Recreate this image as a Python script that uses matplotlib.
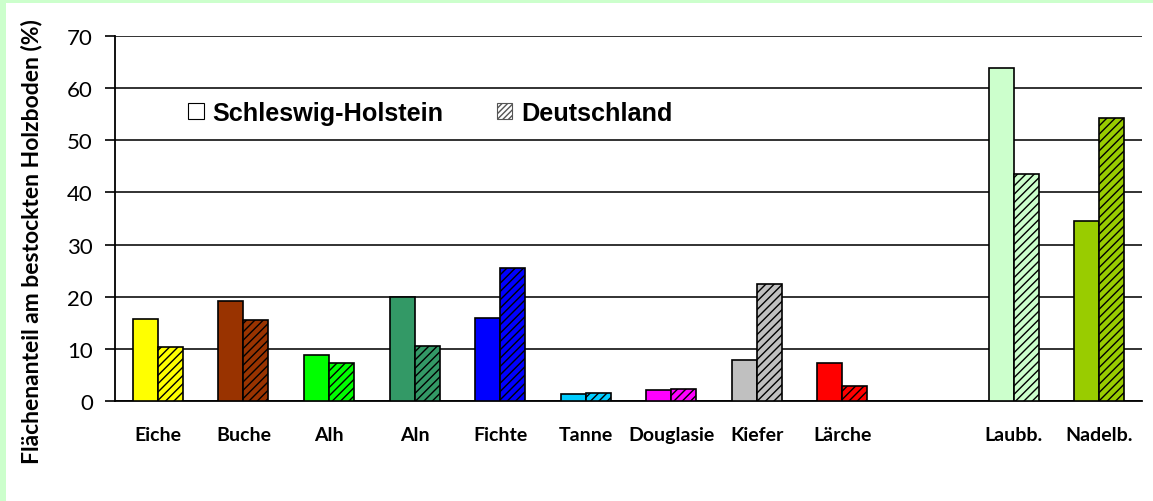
import numpy as np
import matplotlib.pyplot as plt
from matplotlib.patches import Patch, Rectangle

# data
categories = ["Eiche", "Buche", "Alh", "Aln", "Fichte", "Tanne", "Douglasie",
              "Kiefer", "Lärche", "", "Laubb.", "Nadelb."]
sh_values = [15.8, 19.2, 8.9, 19.9, 16.0, 1.4, 2.1, 7.8, 7.3, 0, 63.9, 34.5]
de_values = [10.4, 15.5, 7.2, 10.6, 25.5, 1.6, 2.3, 22.5, 2.8, 0, 43.5, 54.3]
colors = ["#FFFF00", "#993300", "#00FF00", "#339966", "#0000FF", "#00CCFF",
          "#FF00FF", "#C0C0C0", "#FF0000", "#FFFFFF", "#CCFFCC", "#99CC00"]
series_names = ["Schleswig-Holstein", "Deutschland"]
yticks = [0, 10, 20, 30, 40, 50, 60, 70]

plt.rcParams['hatch.linewidth'] = 1.0

W, H = 1153, 502
fig = plt.figure(figsize=(W / 100, H / 100), dpi=100)
fig.patch.set_facecolor("#CCFFCC")
# white panel inside the light green frame
fig.add_artist(Rectangle((6 / W, 0), 1, 1 - 4 / H, transform=fig.transFigure,
                         facecolor="white", edgecolor="none", zorder=-1))

ax = fig.add_axes([115 / W, 1 - 402 / H, (1142 - 115) / W, (402 - 37) / H])
ax.set_facecolor("none")

x = np.arange(len(categories))
bw = 0.292
for i in range(len(categories)):
    if categories[i] == "":
        continue
    ax.bar(x[i] - bw / 2, sh_values[i], bw, color=colors[i],
           edgecolor="black", linewidth=1.2, zorder=3)
    ax.bar(x[i] + bw / 2, de_values[i], bw, color=colors[i],
           edgecolor="black", linewidth=1.2, hatch="////", zorder=3)

ax.set_xlim(-0.5, len(categories) - 0.5)
ax.set_ylim(0, 70)
ax.set_yticks(yticks)
ax.yaxis.grid(True, color="#222222", linewidth=1.3, zorder=0)
ax.set_axisbelow(True)

ax.set_xticks(x)
ax.set_xticklabels(categories, fontfamily="Lato", fontweight="bold", fontsize=14)
ax.tick_params(axis="x", length=0, pad=18)
ax.tick_params(axis="y", length=7, width=1.2, pad=9, direction="out")
for lbl in ax.get_yticklabels():
    lbl.set_fontfamily("Lato")
    lbl.set_fontsize(16)

for s in ["top", "right"]:
    ax.spines[s].set_visible(False)
ax.spines["left"].set_linewidth(1.3)
ax.spines["bottom"].set_linewidth(1.3)

fig.text(32 / W, 1 - 242 / H, "Flächenanteil am bestockten Holzboden (%)",
         rotation=90, ha="center", va="center",
         fontfamily="Lato", fontweight="bold", fontsize=16.5)

handles = [Patch(facecolor="white", edgecolor="black", linewidth=0.8),
           Patch(facecolor="white", edgecolor="#555555", linewidth=0.8, hatch="//////")]
ax.legend(handles, series_names, ncol=2, frameon=False,
          loc="center left", bbox_to_anchor=(0.049, 0.789),
          prop={"family": "Liberation Sans", "weight": "bold", "size": 18.2},
          handlelength=0.62, handleheight=0.62, handletextpad=0.35,
          columnspacing=2.1)

fig.savefig("out.png", dpi=100, facecolor=fig.get_facecolor())
